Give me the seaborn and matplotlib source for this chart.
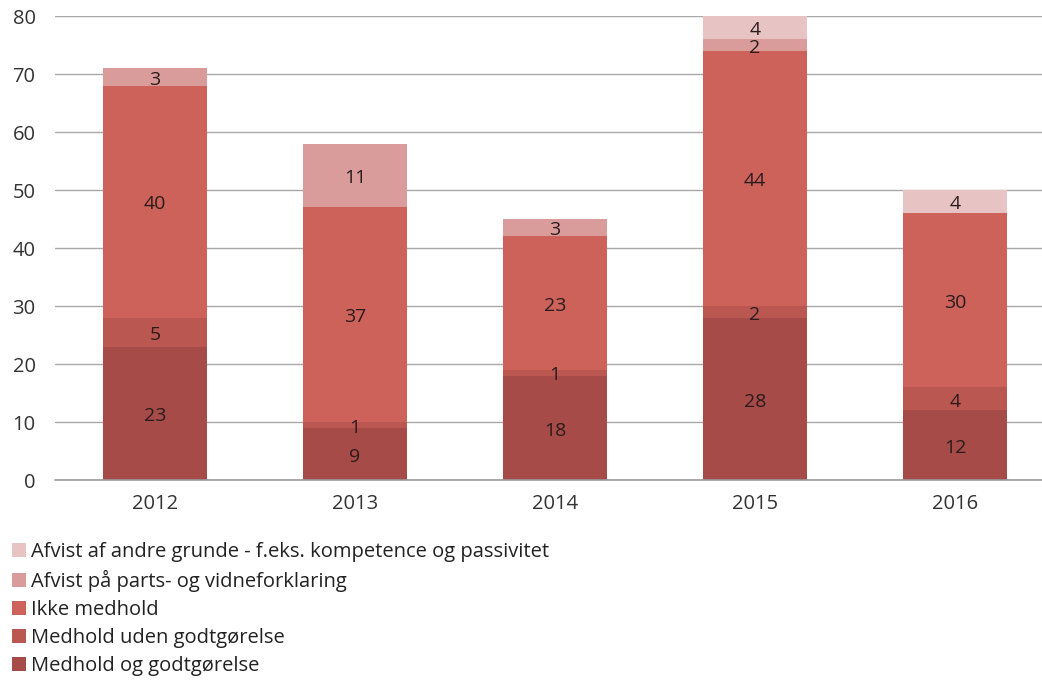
import numpy as np
import pandas as pd
import matplotlib
matplotlib.use("Agg")
import matplotlib.pyplot as plt
import seaborn as sns
from matplotlib.patches import Patch

years = ["2012", "2013", "2014", "2015", "2016"]
series_names = [
    "Medhold og godtgørelse",
    "Medhold uden godtgørelse",
    "Ikke medhold",
    "Afvist på parts- og vidneforklaring",
    "Afvist af andre grunde - f.eks. kompetence og passivitet",
]
medhold_godt = [23, 9, 18, 28, 12]
medhold_uden = [5, 1, 1, 2, 4]
ikke_medhold = [40, 37, 23, 44, 30]
afvist_parts = [3, 11, 3, 2, 0]
afvist_andre = [0, 0, 0, 4, 4]
colors = ["#a64b47", "#bb5751", "#cc625a", "#d99c9b", "#e8c3c4"]

values = [medhold_godt, medhold_uden, ikke_medhold, afvist_parts, afvist_andre]
y_ticks = [0, 10, 20, 30, 40, 50, 60, 70, 80]

sns.set_theme(style="white")
plt.rcParams["font.family"] = ["Open Sans", "DejaVu Sans"]

fig = plt.figure(figsize=(10.42, 6.81), dpi=100)
ax = fig.add_axes([55 / 1042, 1 - 480 / 681, 1 - 55 / 1042, (480 - 16) / 681])

stack = np.cumsum(np.array(values, dtype=float), axis=0)

# Stacked bars: draw cumulative totals from the top layer down
for i in range(len(values) - 1, -1, -1):
    df = pd.DataFrame({"year": years, "total": stack[i]})
    sns.barplot(data=df, x="year", y="total", color=colors[i], width=0.52,
                saturation=1, ax=ax, errorbar=None, zorder=2, linewidth=0,
                edgecolor="none")

# Segment value labels, centred in each segment
for i, vals in enumerate(values):
    for j, v in enumerate(vals):
        if v == 0:
            continue
        bottom = stack[i][j] - v
        ax.annotate(str(v), xy=(j, bottom + v / 2), xytext=(0, -2),
                    textcoords="offset points", ha="center", va="center",
                    fontsize=14, color="#2a1c1c", zorder=3)

ax.set_ylim(0, 80)
ax.set_xlim(-0.5, -0.5 + (1042 - 55) / 200)
ax.set_yticks(y_ticks)
ax.yaxis.grid(True, color="#a8a8a8", linewidth=1)
ax.xaxis.grid(False)
ax.set_axisbelow(True)
for s in ax.spines.values():
    s.set_visible(False)
ax.axhline(0, color="#9a9a9a", linewidth=1.2, zorder=4, clip_on=False)
ax.set_xlabel("")
ax.set_ylabel("")
ax.tick_params(axis="y", labelsize=14.5, colors="#333333", pad=14, length=0)
ax.tick_params(axis="x", labelsize=14.5, colors="#333333", pad=10, length=0)

handles = [Patch(facecolor=colors[i], edgecolor="none", label=series_names[i])
           for i in range(len(values) - 1, -1, -1)]
fig.legend(handles=handles, loc="upper left", bbox_to_anchor=(0.0, 1 - 530 / 681),
           frameon=False, fontsize=14.5, handlelength=0.7, handleheight=0.7,
           handletextpad=0.25, labelspacing=0.4, borderaxespad=0.2,
           labelcolor="#222222")

fig.savefig("out.png", dpi=100)
